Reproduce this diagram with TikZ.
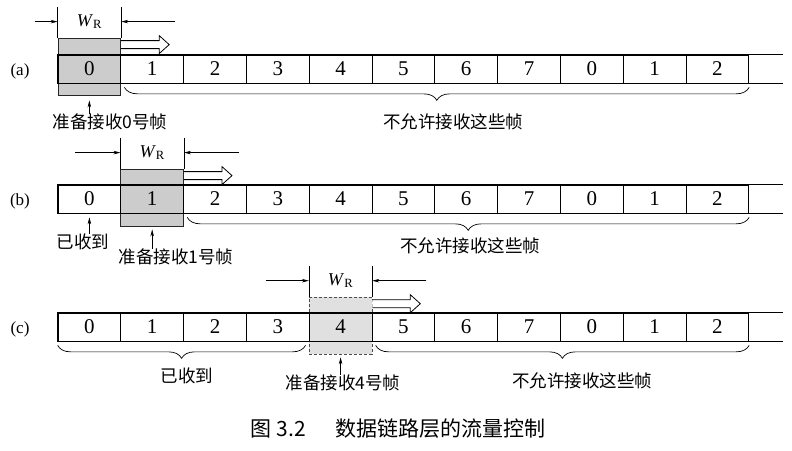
\documentclass[tikz,border=0pt]{standalone}
\usepackage{fontspec}
\setmainfont{Liberation Serif}
\newfontfamily\cjk{Noto Sans CJK SC}
\usetikzlibrary{arrows.meta,decorations.pathreplacing,positioning}
\tikzset{
  fwcell/.style={draw=black, line width=0.7pt, minimum width=62.8pt, minimum height=28pt, inner sep=0pt, font=\fontsize{21}{21}\selectfont},
  fwline/.style={line width=1.5pt, draw=black, line cap=rect},
  fwwin/.style={fill=black!20, draw=black!85, line width=0.8pt, minimum width=62.8pt, minimum height=57pt, inner sep=0pt},
  fwwinc/.style={fwwin, fill=black!12, draw=black!70, densely dashed, line width=0.6pt},
  fwdim/.style={line width=0.6pt, -{Stealth[length=7pt,width=3.5pt]}},
  fwext/.style={line width=0.6pt},
  fwbrace/.style={decorate, decoration={brace, mirror, amplitude=13pt}, line width=0.7pt},
  fwtext/.style={font=\cjk\fontsize{17.5}{17.5}\selectfont, inner sep=0pt},
  fwwr/.style={font=\fontsize{18}{18}\selectfont, inner sep=0pt},
  fwhollow/.style={fill=white, draw=black, line width=0.8pt, line join=miter},
  fwtag/.style={font=\fontsize{17}{17}\selectfont, inner sep=0pt},
}

\begin{document}
\begin{tikzpicture}[x=1pt,y=-1pt]
\useasboundingbox (0,0) rectangle (792,450);

% (a)
\node[fwwin] (wa) at (89.4,66.5) {};
\foreach \n [count=\i from 0] in {0,1,2,3,4,5,6,7,0,1,2}
  \node[fwcell] (a\i) at ({89.4+62.8*\i},69) {\n};
\draw[fwline] (a0.north west) -- (a10.north east) -- ++(33,0);
\draw[fwline] (a0.south west) -- (a10.south east) -- ++(33,0);
\draw[fwline] (a0.north west) -- (a0.south west);
\node[fwtag] (ta) at (20,71) {(a)};
\draw[fwext] (wa.north west) -- ++(0,-31);
\draw[fwext] (wa.north east) -- ++(0,-31);
\draw[fwdim] ([xshift=-23pt,yshift=16pt]wa.north west) -- ([yshift=16pt]wa.north west);
\draw[fwdim] ([xshift=54pt,yshift=16pt]wa.north east) -- ([yshift=16pt]wa.north east);
\node[fwwr] (wra) at ([yshift=16pt]wa.north) {\textit{W}\textsubscript{R}};
\draw[fwhollow] ([yshift=-3pt]wa.north east) -- ++(38,0) -- ++(0,-5) -- ++(10,9) -- ++(-10,9) -- ++(0,-5) -- ++(-38,0);
\node[fwtext] (la0) at (110,122) {准备接收0号帧};
\draw[fwdim] (la0.north -| wa.south) -- ([yshift=-5pt]wa.south);
\draw[fwbrace] ([xshift=4pt,yshift=-4pt]a1.south west) -- ([yshift=-4pt]a10.south east);
\node[fwtext] (la1) at (453,122) {不允许接收这些帧};

% (b)
\node[fwwin] (wb) at (152.2,197.5) {};
\foreach \n [count=\i from 0] in {0,1,2,3,4,5,6,7,0,1,2}
  \node[fwcell] (b\i) at ({89.4+62.8*\i},199) {\n};
\draw[fwline] (b0.north west) -- (b10.north east) -- ++(33,0);
\draw[fwline] (b0.south west) -- (b10.south east) -- ++(33,0);
\draw[fwline] (b0.north west) -- (b0.south west);
\node[fwtag] (tb) at (20,201) {(b)};
\draw[fwext] (wb.north west) -- ++(0,-31);
\draw[fwext] (wb.north east) -- ++(0,-31);
\draw[fwdim] ([xshift=-45pt,yshift=16pt]wb.north west) -- ([yshift=16pt]wb.north west);
\draw[fwdim] ([xshift=55pt,yshift=16pt]wb.north east) -- ([yshift=16pt]wb.north east);
\node[fwwr] (wrb) at ([yshift=16pt]wb.north) {\textit{W}\textsubscript{R}};
\draw[fwhollow] ([yshift=-3pt]wb.north east) -- ++(38,0) -- ++(0,-5) -- ++(10,9) -- ++(-10,9) -- ++(0,-5) -- ++(-38,0);
\node[fwtext] (lb0) at (83,242) {已收到};
\draw[fwdim] (lb0.north -| b0.south) -- ([yshift=-4pt]b0.south);
\node[fwtext] (lb1) at (176,257) {准备接收1号帧};
\draw[fwdim] (lb1.north -| wb.south) -- ([yshift=-3pt]wb.south);
\draw[fwbrace] ([xshift=4pt,yshift=-4pt]b2.south west) -- ([yshift=-4pt]b10.south east);
\node[fwtext] (lb2) at (470,246) {不允许接收这些帧};

% (c)
\node[fwwinc] (wc) at (340.6,325.5) {};
\foreach \n [count=\i from 0] in {0,1,2,3,4,5,6,7,0,1,2}
  \node[fwcell] (c\i) at ({89.4+62.8*\i},327) {\n};
\draw[fwline] (c0.north west) -- (c10.north east) -- ++(33,0);
\draw[fwline] (c0.south west) -- (c10.south east) -- ++(33,0);
\draw[fwline] (c0.north west) -- (c0.south west);
\node[fwtag] (tc) at (20,329) {(c)};
\draw[fwext] (wc.north west) -- ++(0,-31);
\draw[fwext] (wc.north east) -- ++(0,-31);
\draw[fwdim] ([xshift=-43pt,yshift=16pt]wc.north west) -- ([yshift=16pt]wc.north west);
\draw[fwdim] ([xshift=54pt,yshift=16pt]wc.north east) -- ([yshift=16pt]wc.north east);
\node[fwwr] (wrc) at ([yshift=16pt]wc.north) {\textit{W}\textsubscript{R}};
\draw[fwhollow] ([yshift=-3pt]wc.north east) -- ++(38,0) -- ++(0,-5) -- ++(10,9) -- ++(-10,9) -- ++(0,-5) -- ++(-38,0);
\draw[fwbrace] ([yshift=-4pt]c0.south west) -- ([xshift=-4pt,yshift=-4pt]c3.south east);
\node[fwtext] (lc0) at (187,376) {已收到};
\node[fwtext] (lc1) at (343,383) {准备接收4号帧};
\draw[fwdim] (lc1.north -| wc.south) -- ([yshift=-3pt]wc.south);
\draw[fwbrace] ([xshift=4pt,yshift=-4pt]c5.south west) -- ([yshift=-4pt]c10.south east);
\node[fwtext] (lc2) at (582,381) {不允许接收这些帧};

% caption
\node[font=\cjk\fontsize{21}{21}\selectfont, inner sep=0pt] (cap) at (398,429) {图 3.2\hspace{1.4em}数据链路层的流量控制};
\end{tikzpicture}
\end{document}
